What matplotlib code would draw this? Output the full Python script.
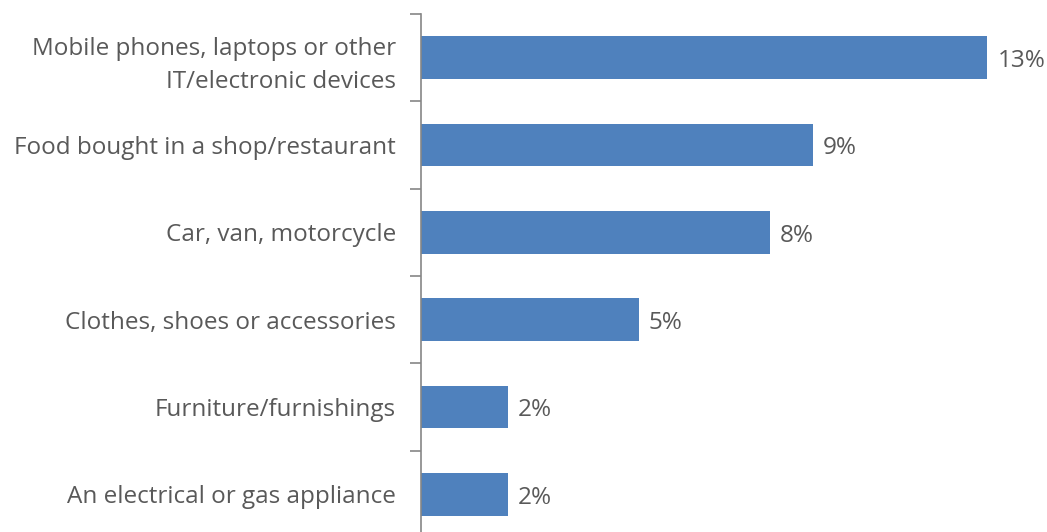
import matplotlib
matplotlib.use("Agg")
import matplotlib.pyplot as plt

categories = [
    "Mobile phones, laptops or other\nIT/electronic devices",
    "Food bought in a shop/restaurant",
    "Car, van, motorcycle",
    "Clothes, shoes or accessories",
    "Furniture/furnishings",
    "An electrical or gas appliance",
]
values = [13, 9, 8, 5, 2, 2]

plt.rcParams["font.family"] = ["Open Sans", "DejaVu Sans"]
text_color = "#595959"
bar_color = "#4F81BD"

fig = plt.figure(figsize=(10.47, 5.32), dpi=100)
# axes runs slightly past the bottom edge of the figure
ax = fig.add_axes([421 / 1047, -6 / 532, 610 / 1047, 524 / 532])

n = len(categories)
ypos = list(range(n))
ax.barh(ypos, values, height=0.49, color=bar_color, edgecolor="none")
ax.set_ylim(n - 0.5, -0.5)
ax.set_xlim(0, 14)

for y, v in zip(ypos, values):
    ax.text(v + 0.23, y + 0.04, f"{v}%", va="center", ha="left",
            fontsize=17.5, color=text_color)

ax.set_yticks([y for y in ypos])
ax.set_yticklabels(categories, fontsize=17.5, color=text_color, linespacing=1.5)
ax.set_yticks([y - 0.5 for y in range(n + 1)], minor=True)
ax.tick_params(axis="y", which="major", length=0, pad=18)
ax.tick_params(axis="y", which="minor", length=8, width=1.2, color="#868686")
for lbl in ax.get_yticklabels():
    lbl.set_horizontalalignment("right")

ax.set_xticks([])
for side in ["top", "right", "bottom"]:
    ax.spines[side].set_visible(False)
ax.spines["left"].set_color("#868686")
ax.spines["left"].set_linewidth(1.2)

fig.savefig("out.png", dpi=100)
